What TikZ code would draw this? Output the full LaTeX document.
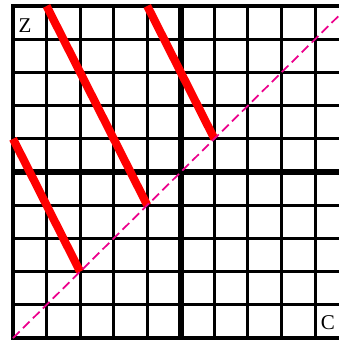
\documentclass[tikz,border=0pt]{standalone}
\usepackage{amsmath}
\usepackage{fontspec}
\setmainfont{Liberation Serif}
\usepackage{tikz}
\begin{document}
\begin{tikzpicture}[x=1.011cm,y=1cm]
        \useasboundingbox (-0.387,-0.09) rectangle (9.71,10.18);
        \foreach \i in {1,...,9} {
            \draw[line width=2.6pt] (\i,0) -- (\i,10);
            \draw[line width=2.6pt] (0,\i) -- (10,\i);
        }
        \draw[line width=4.8pt] (5,0) -- (5,10);
        \draw[line width=4.8pt] (0,5) -- (10,5);
        \draw[line width=3.4pt] (10,0) -- (0,0) -- (0,10) -- (10,10);
        \draw[line width=7pt, red] (0,6) -- (2,2);
        \draw[line width=7pt, red] (1,10) -- (4,4);
        \draw[line width=7pt, red] (4,10) -- (6,6);
        \draw[magenta, line width=1.5pt, dash pattern=on 8pt off 4pt] (0,0) -- (10,10);
        \node[inner sep=0pt, font=\fontsize{18}{20}\selectfont] (zlabel) at (0.36,9.41) {Z};
        \node[inner sep=0pt, font=\fontsize{18}{20}\selectfont] (clabel) at (9.38,0.47) {C};
    \end{tikzpicture}
\end{document}
